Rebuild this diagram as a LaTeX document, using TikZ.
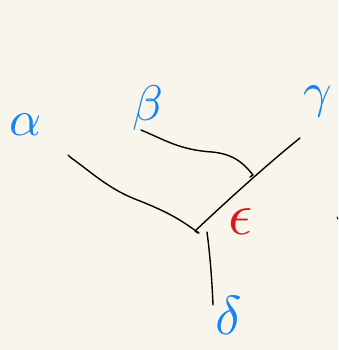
\documentclass[tikz,border=0pt]{standalone}
\usepackage{fontspec}
\usepackage{graphicx}
\definecolor{bgc}{RGB}{248,246,236}
\definecolor{inkblue}{RGB}{22,132,242}
\definecolor{inkred}{RGB}{222,24,24}
\newcommand{\bigglyph}[2]{\scalebox{#1}{$#2$}}
\begin{document}
\begin{tikzpicture}[x=1pt,y=-1pt,
  stroke/.style={line width=1.4pt,line cap=round,line join=round,black},
  greek/.style={inner sep=0pt,text=inkblue},
  redgreek/.style={inner sep=0pt,text=inkred}]
\fill[bgc] (0,0) rectangle (338,350);
\useasboundingbox (0,0) rectangle (338,350);
% labels
\node[greek] (a) at (26,125) {\bigglyph{5}{\alpha}};
\node[greek] (b) at (148,108) {\bigglyph{5}{\beta}};
\node[greek] (g) at (318,102) {\bigglyph{5}{\gamma}};
\node[greek] (d) at (229,315) {\bigglyph{5.5}{\delta}};
\node[redgreek] (e) at (241,222) {\bigglyph{6}{\epsilon}};
% connector ends
\coordinate (a1) at (68,155);
\coordinate (a2) at (199,233);
\coordinate (b1) at (141,130);
\coordinate (b2) at (253,175);
\coordinate (g1) at (300,138);
\coordinate (g2) at (195,231);
\coordinate (d1) at (207,232);
\coordinate (d2) at (213,305);
\coordinate (t1) at (337,217);
\coordinate (t2) at (338,219);
% connectors
\draw[stroke] (a1) -- (70,157) .. controls (95,175) and (110,190) .. (140,201)
  .. controls (165,211) and (178,218) .. (196,231) -- (a2);
\draw[stroke] (b1) .. controls (165,140) and (180,150) .. (212,152)
  .. controls (235,154) and (245,165) .. (b2) -- (250,177);
\draw[stroke] (g1) .. controls (270,162) and (230,198) .. (g2) -- (198,233);
\draw[stroke] (d1) .. controls (210,255) and (212,280) .. (d2);
\draw[stroke,line width=1pt] (t1) -- (t2);
\end{tikzpicture}
\end{document}
